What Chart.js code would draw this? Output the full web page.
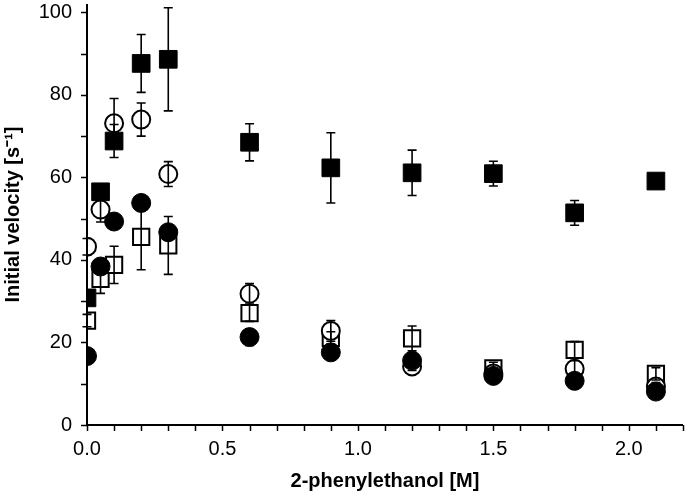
<!DOCTYPE html>
<html>
<head>
<meta charset="utf-8">
<script src="https://cdn.jsdelivr.net/npm/chart.js@4.4.1/dist/chart.umd.min.js"></script>
<style>
  html, body { margin: 0; padding: 0; background: #fff; }
  #wrap { width: 685px; height: 501px; }
</style>
</head>
<body>
<div id="wrap"><canvas id="velChart" width="685" height="501"></canvas></div>
<script>
// concentrations [M]
const conc = [0, 0.05, 0.1, 0.2, 0.3, 0.6, 0.9, 1.2, 1.5, 1.8, 2.1];

// initial velocity values, one list per series, with error bar sizes
const filledSquare    = [30.8, 56.5, 68.8, 87.6, 88.6, 68.5, 62.3, 61.1, 60.9, 51.4, 59.1];
const filledSquareErr = [0, 0, 4, 7, 12.5, 4.5, 8.5, 5.5, 3, 3, 0];
const openCircle      = [43.2, 52.2, 73.1, 74.0, 60.8, 31.8, 22.8, 14.2, 12.5, 13.6, 9.3];
const openCircleErr   = [2, 3, 6, 4, 3, 2.5, 2.5, 1, 1, 2, 1];
const openSquare      = [25.3, 35.4, 38.8, 45.6, 43.5, 27.1, 21.1, 21.0, 13.7, 18.2, 12.4];
const openSquareErr   = [1.5, 3.5, 4.5, 8, 7, 2, 1.5, 3, 1.5, 2, 1.5];
const filledCircle    = [16.7, 38.4, 49.3, 53.8, 46.7, 21.3, 17.6, 15.6, 11.9, 10.7, 8.1];
const filledCircleErr = [0, 0, 0, 0, 0, 2, 1, 1, 1, 1, 1];

const xMajor = [0, 0.5, 1.0, 1.5, 2.0];
const yMajor = [0, 20, 40, 60, 80, 100];

const pts = (ys) => conc.map((x, i) => ({ x: x, y: ys[i] }));

// error bars + axis lines with minor ticks, drawn through the chart scales
const extras = {
  id: 'extras',
  afterDatasetsDraw(chart) {
    const ctx = chart.ctx;
    const xs = chart.scales.x, ys = chart.scales.y;
    ctx.save();
    ctx.strokeStyle = '#000';
    ctx.lineWidth = 1.6;
    chart.data.datasets.forEach(ds => {
      (ds.errors || []).forEach((e, i) => {
        if (!e) return;
        const px = xs.getPixelForValue(ds.data[i].x);
        const top = ys.getPixelForValue(ds.data[i].y + e);
        const bot = ys.getPixelForValue(ds.data[i].y - e);
        ctx.beginPath();
        ctx.moveTo(px, top); ctx.lineTo(px, bot);
        ctx.moveTo(px - 4.5, top); ctx.lineTo(px + 4.5, top);
        ctx.moveTo(px - 4.5, bot); ctx.lineTo(px + 4.5, bot);
        ctx.stroke();
      });
    });

    const a = chart.chartArea;
    ctx.lineWidth = 2;
    ctx.beginPath();
    ctx.moveTo(a.left, a.top); ctx.lineTo(a.left, a.bottom + 1);
    ctx.moveTo(a.left - 1, a.bottom); ctx.lineTo(a.right, a.bottom);
    ctx.stroke();

    ctx.lineWidth = 1.5;
    ctx.beginPath();
    for (let v = 0; v <= 102; v += 10) {
      const py = Math.round(ys.getPixelForValue(v)) + 0.5;
      ctx.moveTo(a.left - 6, py); ctx.lineTo(a.left, py);
    }
    for (let k = 0; k <= 22; k++) {
      const px = Math.round(xs.getPixelForValue(k / 10)) + 0.5;
      ctx.moveTo(px, a.bottom); ctx.lineTo(px, a.bottom + 6);
    }
    ctx.stroke();
    ctx.restore();
  }
};

new Chart(document.getElementById('velChart'), {
  type: 'scatter',
  data: {
    datasets: [
      {
        label: 'filled circles',
        data: pts(filledCircle), errors: filledCircleErr,
        pointStyle: 'circle', pointRadius: 9.5,
        backgroundColor: '#000', borderColor: '#000', borderWidth: 1,
        order: 0
      },
      {
        label: 'open circles',
        data: pts(openCircle), errors: openCircleErr,
        pointStyle: 'circle', pointRadius: 9,
        backgroundColor: '#fff', borderColor: '#000', borderWidth: 2,
        order: 1
      },
      {
        label: 'open squares',
        data: pts(openSquare), errors: openSquareErr,
        pointStyle: 'rect', pointRadius: 11.5,
        backgroundColor: '#fff', borderColor: '#000', borderWidth: 2,
        order: 2
      },
      {
        label: 'filled squares',
        data: pts(filledSquare), errors: filledSquareErr,
        pointStyle: 'rect', pointRadius: 12.5,
        backgroundColor: '#000', borderColor: '#000', borderWidth: 1,
        order: 3
      }
    ]
  },
  options: {
    responsive: false,
    animation: false,
    events: [],
    layout: { autoPadding: false, padding: { top: 4, right: 2, left: 0, bottom: 0 } },
    plugins: { legend: { display: false }, tooltip: { enabled: false } },
    scales: {
      x: {
        type: 'linear',
        min: 0, max: 2.2,
        afterBuildTicks: (s) => { s.ticks = xMajor.map(v => ({ value: v })); },
        afterFit: (s) => { s.height = 76; s.paddingLeft = 0; s.paddingRight = 0; },
        grid: { display: false, drawTicks: false },
        border: { display: false },
        ticks: {
          color: '#000', padding: 12,
          font: { family: 'Liberation Sans, Arial, sans-serif', size: 20 },
          callback: (v) => v.toFixed(1)
        },
        title: {
          display: true, text: '2-phenylethanol [M]', color: '#000',
          font: { family: 'Liberation Sans, Arial, sans-serif', size: 20, weight: 'bold' },
          padding: { top: 0, bottom: 8 }
        }
      },
      y: {
        type: 'linear',
        min: 0, max: 102,
        afterBuildTicks: (s) => { s.ticks = yMajor.map(v => ({ value: v })); },
        afterFit: (s) => { s.width = 87; s.paddingTop = 0; s.paddingBottom = 0; },
        grid: { display: false, drawTicks: false },
        border: { display: false },
        ticks: {
          color: '#000', padding: 15,
          font: { family: 'Liberation Sans, Arial, sans-serif', size: 20 }
        },
        title: {
          display: true, text: 'Initial velocity [s\u207B\u00B9]', color: '#000',
          font: { family: 'Liberation Sans, Arial, sans-serif', size: 20, weight: 'bold' },
          padding: { top: 1, bottom: 0 }
        }
      }
    }
  },
  plugins: [extras]
});
</script>
</body>
</html>
